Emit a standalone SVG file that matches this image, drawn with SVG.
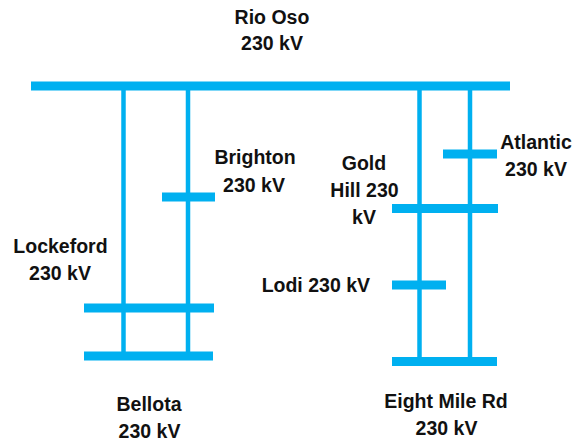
<svg xmlns="http://www.w3.org/2000/svg" width="574" height="442" viewBox="0 0 574 442">
<style>
.bus{stroke:#00B0F0;stroke-width:9;stroke-linecap:butt;fill:none}
.line{stroke:#00B0F0;stroke-width:4.5;fill:none}
text{font-family:"Liberation Sans",Arial,sans-serif;font-weight:bold;font-size:19.5px;fill:#111;text-anchor:middle}
</style>
<rect width="574" height="442" fill="#fff"/>
<g id="connectors">
<line class="line" x1="123.5" y1="86" x2="123.5" y2="356"/>
<line class="line" x1="188" y1="86" x2="188" y2="356"/>
<line class="line" x1="419.5" y1="86" x2="419.5" y2="361.5"/>
<line class="line" x1="470" y1="86" x2="470" y2="361.5"/>
</g>
<g id="rio-oso">
<line class="bus" x1="31" y1="86" x2="510" y2="86"/>
<text x="272" y="23.5">Rio Oso</text>
<text x="272" y="50">230 kV</text>
</g>
<g id="brighton">
<line class="bus" x1="162" y1="197" x2="215" y2="197"/>
<text x="255" y="164">Brighton</text>
<text x="254" y="192">230 kV</text>
</g>
<g id="atlantic">
<line class="bus" x1="443" y1="154" x2="497" y2="154"/>
<text x="536" y="148.5">Atlantic</text>
<text x="536" y="175.5">230 kV</text>
</g>
<g id="gold-hill">
<line class="bus" x1="392" y1="208.5" x2="498" y2="208.5"/>
<text x="364" y="170">Gold</text>
<text x="364.5" y="197">Hill 230</text>
<text x="364" y="224">kV</text>
</g>
<g id="lockeford">
<line class="bus" x1="84" y1="308" x2="214" y2="308"/>
<text x="60.5" y="253">Lockeford</text>
<text x="60" y="279.5">230 kV</text>
</g>
<g id="bellota">
<line class="bus" x1="84" y1="356" x2="213" y2="356"/>
<text x="149" y="411">Bellota</text>
<text x="149.5" y="438">230 kV</text>
</g>
<g id="lodi">
<line class="bus" x1="392" y1="285" x2="446" y2="285"/>
<text x="370" y="292" style="text-anchor:end">Lodi 230 kV</text>
</g>
<g id="eight-mile-rd">
<line class="bus" x1="392" y1="361.5" x2="497" y2="361.5"/>
<text x="446" y="408">Eight Mile Rd</text>
<text x="446.5" y="434.5">230 kV</text>
</g>
</svg>
